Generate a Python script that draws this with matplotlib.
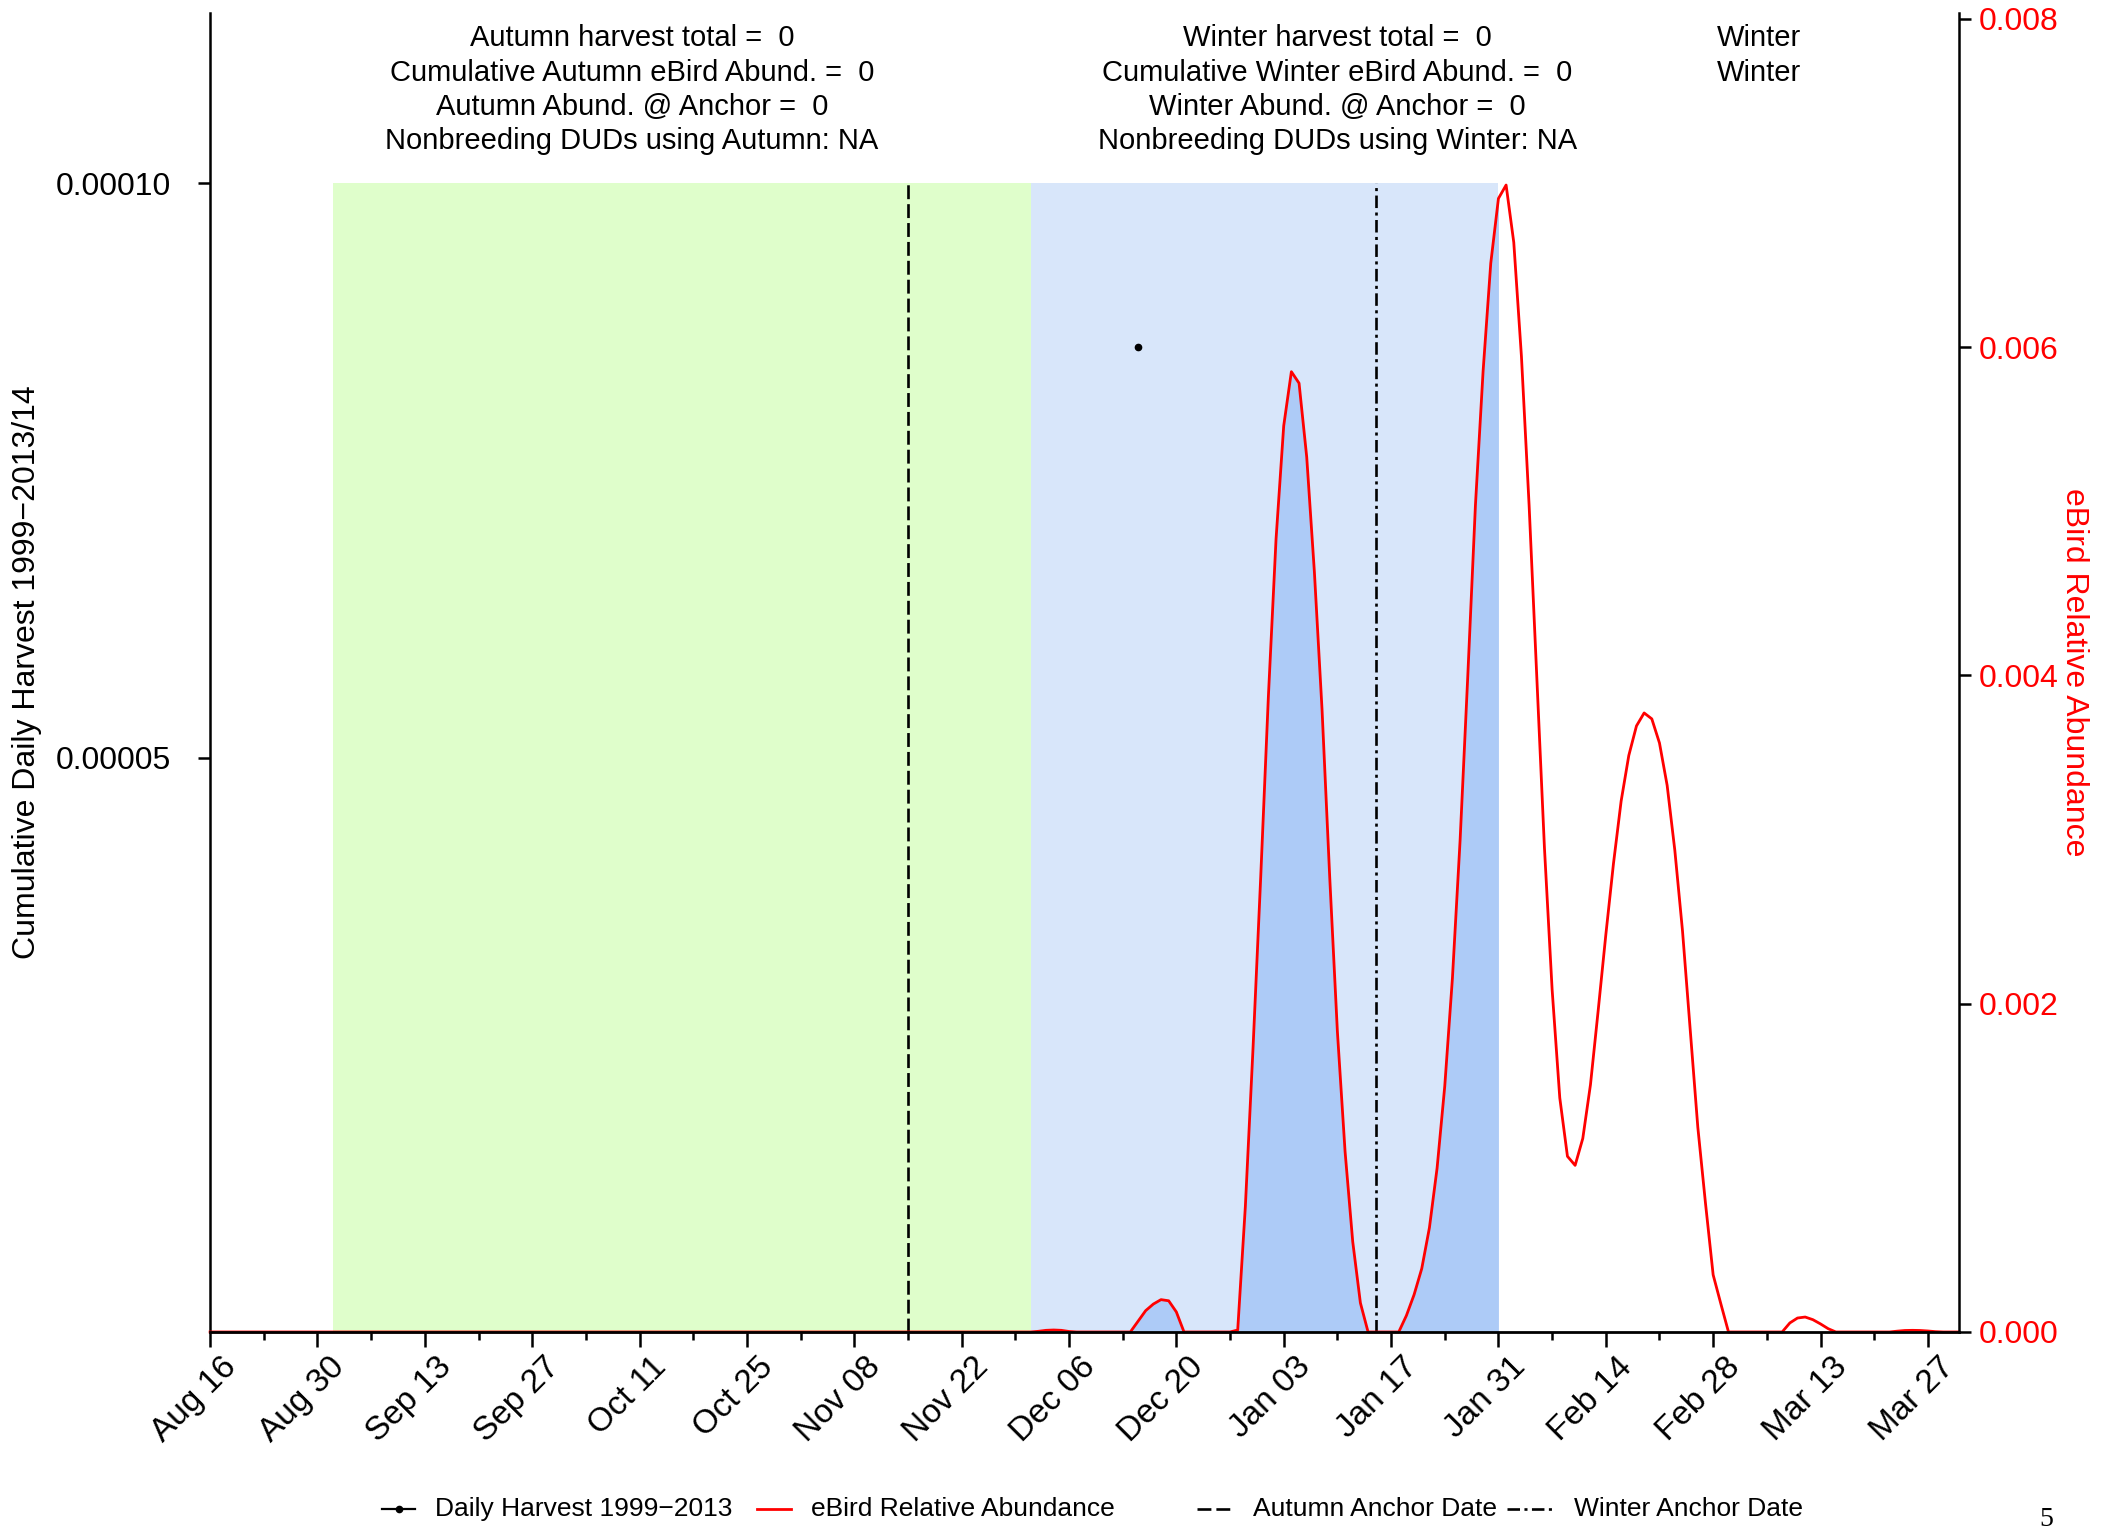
import numpy as np
import pandas as pd
import matplotlib
matplotlib.use("Agg")
import matplotlib.pyplot as plt
import matplotlib.transforms as mtransforms
from matplotlib.lines import Line2D

plt.rcParams['font.family'] = ['Liberation Sans', 'DejaVu Sans']
plt.rcParams['lines.scale_dashes'] = False

# ---- data ----
season_start = '2015-08-16'
season_end = '2016-03-31'
autumn_window = ('2015-09-01', '2015-12-01')
winter_window = ('2015-12-01', '2016-01-31')
autumn_anchor = '2015-11-15'
winter_anchor = '2016-01-15'
harvest_dates = ['2015-12-15']
harvest_vals = [0.006]
shade_top = 0.0001

# eBird relative abundance, daily, Dec 01 2015 .. Mar 29 2016
ebird_vals = [
    0, 4e-6, 1.0e-5, 1.2e-5, 1.0e-5, 3e-6, 0,
    0, 0, 0, 0, 0, 0, 0,
    6.5e-5, 1.3e-4, 1.7e-4, 1.97e-4, 1.9e-4, 1.22e-4, 0,
    0, 0, 0, 0, 0, 0, 1.2e-5,
    7.66e-4, 1.73e-3, 2.77e-3, 3.87e-3, 4.83e-3, 5.52e-3, 5.85e-3,
    5.78e-3, 5.33e-3, 4.63e-3, 3.79e-3, 2.77e-3, 1.83e-3, 1.10e-3,
    5.5e-4, 1.77e-4, 0, 0, 0, 0, 0,
    1.0e-4, 2.27e-4, 3.86e-4, 6.35e-4, 9.98e-4, 1.497e-3, 2.155e-3,
    2.994e-3, 3.993e-3, 5.036e-3, 5.853e-3, 6.511e-3, 6.905e-3, 6.987e-3,
    6.638e-3, 5.943e-3, 5.036e-3, 3.993e-3, 2.949e-3, 2.087e-3, 1.426e-3,
    1.07e-3, 1.015e-3, 1.179e-3, 1.506e-3, 1.955e-3, 2.418e-3, 2.853e-3,
    3.234e-3, 3.512e-3, 3.692e-3, 3.771e-3, 3.735e-3, 3.588e-3, 3.33e-3,
    2.935e-3, 2.445e-3, 1.846e-3, 1.247e-3, 7.84e-4, 3.48e-4, 1.72e-4,
    0, 0, 0, 0, 0, 0, 0,
    0, 5.5e-5, 8.5e-5, 9.1e-5, 7.5e-5, 4.9e-5, 2.0e-5,
    0, 0, 0, 0, 0, 0, 0,
    0, 5e-6, 9e-6, 1.0e-5, 9e-6, 6e-6, 2e-6,
    0,
]
ebird_lead_zeros = 107   # Aug 16 .. Nov 30 at zero
ebird_tail_zeros = 2     # Mar 30 .. Mar 31 at zero

autumn_lines = ["Autumn harvest total =  0",
                "Cumulative Autumn eBird Abund. =  0",
                "Autumn Abund. @ Anchor =  0",
                "Nonbreeding DUDs using Autumn: NA"]
winter_lines = ["Winter harvest total =  0",
                "Cumulative Winter eBird Abund. =  0",
                "Winter Abund. @ Anchor =  0",
                "Nonbreeding DUDs using Winter: NA"]
extra_lines = ["Winter", "Winter"]
text_centres = ['2015-10-10', '2016-01-10', '2016-03-05']

left_ticks = [0.00005, 0.0001]
right_ticks = [0.0, 0.002, 0.004, 0.006, 0.008]

# ---- build ----
dates = pd.date_range(season_start, season_end, freq='D')
ebird = np.array([0.0] * ebird_lead_zeros + ebird_vals + [0.0] * ebird_tail_zeros)

GREEN = '#DFFECB'
LBLUE = '#D8E6FA'
DBLUE = '#ADCBF7'
DASHED = (10, 3.6)
DOTDASH = (9, 3.2, 2.2, 3.2)

fig = plt.figure(figsize=(21.01, 15.34), dpi=100)
ax = fig.add_axes([0.1, 0.1317, 0.8322, 0.8596])
ax2 = ax.twinx()

aw = pd.to_datetime(autumn_window)
ww = pd.to_datetime(winter_window)
ax.fill_between(aw, 0, shade_top, color=GREEN, lw=0, zorder=0)
ax.fill_between(ww, 0, shade_top, color=LBLUE, lw=0, zorder=0)

ax.plot([pd.Timestamp(autumn_anchor)] * 2, [0, shade_top], color='black', lw=1.9,
        dashes=DASHED, zorder=2)
ax.plot([pd.Timestamp(winter_anchor)] * 2, [0, shade_top], color='black', lw=1.9,
        dashes=DOTDASH, zorder=2)

in_winter = (dates >= ww[0]) & (dates <= ww[1])
ax2.fill_between(dates, 0, ebird, where=in_winter, color=DBLUE, lw=0, zorder=1)
ax2.plot(dates, ebird, color='red', lw=2.0, zorder=2, clip_on=False)
ax2.plot(pd.to_datetime(harvest_dates), harvest_vals, 'o', color='black', ms=4.5, zorder=3)

x0, x1 = pd.Timestamp(season_start), pd.Timestamp(season_end)
ax.set_xlim(x0, x1)
ax.set_ylim(0, 0.0001148)
ax2.set_ylim(0, 0.008033)

major = pd.date_range(season_start, periods=17, freq='14D')
minor = pd.date_range(pd.Timestamp(season_start) + pd.Timedelta(days=7), periods=16, freq='14D')
ax.set_xticks(major)
ax.set_xticks(minor, minor=True)
ax.set_xticklabels([d.strftime('%b %d') for d in major], rotation=45, ha='right',
                   va='top', rotation_mode='anchor', fontsize=24)
ax.tick_params(axis='x', which='major', length=11, width=1.8, pad=3)
ax.tick_params(axis='x', which='minor', length=5.5, width=1.8)
shift = mtransforms.ScaledTranslation(0.11, 0, fig.dpi_scale_trans)
for lab in ax.get_xticklabels():
    lab.set_transform(lab.get_transform() + shift)

ax.set_yticks(left_ticks)
ax.set_yticklabels(['%.5f' % v for v in left_ticks], fontsize=23)
ax.tick_params(axis='y', length=8.5, width=1.8, pad=20)

ax2.set_yticks(right_ticks)
ax2.set_yticklabels(['%.3f' % v for v in right_ticks], fontsize=23, color='red')
ax2.tick_params(axis='y', length=8.5, width=1.8, pad=6)

for a in (ax, ax2):
    a.spines['top'].set_visible(False)
    for s in a.spines.values():
        s.set_linewidth(1.8)
ax.spines['right'].set_visible(False)
ax.spines['bottom'].set_visible(False)
ax2.spines['left'].set_visible(False)
# bottom line drawn from the twin so it sits over the zero-level red line
ax2.spines['bottom'].set_linewidth(2.0)

# summary text above the shaded periods
line_y = [0.9815, 0.9550, 0.9286, 0.9032]
trans = ax.get_xaxis_transform()
for lines, centre in ((autumn_lines, text_centres[0]), (winter_lines, text_centres[1]),
                      (extra_lines, text_centres[2])):
    for txt, yy in zip(lines, line_y):
        ax2.text(pd.Timestamp(centre), yy, txt, transform=trans, ha='center', va='center',
                 fontsize=21)

fig.text(0.0129, 0.5616, 'Cumulative Daily Harvest 1999\u22122013/14', rotation=90,
         ha='center', va='center', fontsize=23)
fig.text(0.9871, 0.5616, 'eBird Relative Abundance', rotation=-90, color='red',
         ha='center', va='center', fontsize=23)

# legend row along the bottom
ly = 0.0165
W = 2101.0
items = [
    (382, 415, 435, dict(color='black', lw=1.6), 'Daily Harvest 1999\u22122013', True),
    (757, 791, 811, dict(color='red', lw=2.0), 'eBird Relative Abundance', False),
    (1197, 1233, 1253, dict(color='black', lw=1.9, dashes=DASHED), 'Autumn Anchor Date', False),
    (1507, 1554, 1574, dict(color='black', lw=1.9, dashes=DOTDASH), 'Winter Anchor Date', False),
]
for hx0, hx1, tx, style, label, dot in items:
    fig.add_artist(Line2D([hx0 / W, hx1 / W], [ly, ly], transform=fig.transFigure, **style))
    if dot:
        fig.add_artist(Line2D([(hx0 + hx1) / 2 / W], [ly], transform=fig.transFigure,
                              marker='o', ms=4.5, color='black', lw=0))
    fig.text(tx / W, ly, label, ha='left', va='center', fontsize=19)

fig.text(2046 / W, 0.0095, '5', family='Liberation Serif', ha='center', va='center', fontsize=20)

fig.savefig('out.png', dpi=100)
